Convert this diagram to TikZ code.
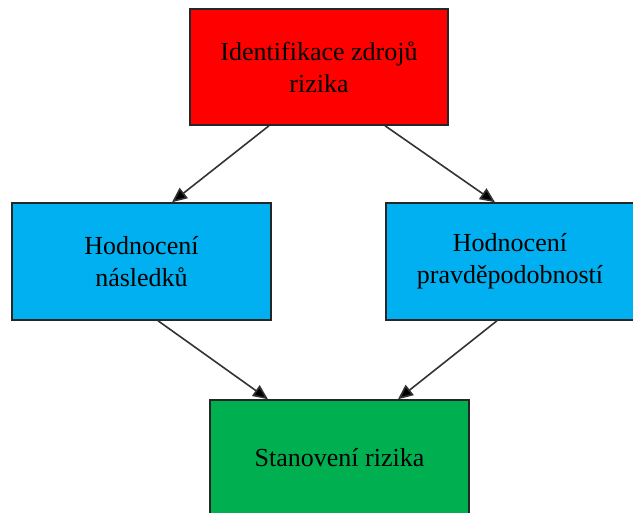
\documentclass[tikz,border=0pt]{standalone}
\usepackage{fontspec}
\setmainfont{Liberation Serif}
\usetikzlibrary{arrows.meta}
\definecolor{boxred}{HTML}{FF0000}
\definecolor{boxblue}{HTML}{00B0F0}
\definecolor{boxgreen}{HTML}{00B050}
\begin{document}
\begin{tikzpicture}[x=1pt,y=-1pt,
  box/.style={draw=black!85,line width=1.5pt,align=center,inner sep=0pt,
    font=\fontsize{26}{32}\selectfont},
  arr/.style={draw=black!80,line width=1.6pt,-{Triangle[length=15pt,width=13pt,fill=black]}}]
\useasboundingbox (0,0) rectangle (633,513);
\node[box,fill=boxred,minimum width=258pt,minimum height=116pt] (r) at (319,67) {Identifikace zdrojů\\rizika};
\node[box,fill=boxblue,minimum width=259pt,minimum height=117pt] (bl) at (141.5,261.5) {Hodnocení\\následků};
\node[box,fill=boxblue,minimum width=248pt,minimum height=117pt] (br) at (510,261.5) {Hodnocení\\pravděpodobností};
\node[box,fill=boxgreen,minimum width=259pt,minimum height=116pt] (g) at (339.5,458) {Stanovení rizika};
\draw[arr] ([xshift=-50pt]r.south) -- ([xshift=30.5pt]bl.north);
\draw[arr] ([xshift=66pt]r.south) -- ([xshift=-15pt]br.north);
\draw[arr] ([xshift=16.5pt]bl.south) -- ([xshift=-71.5pt]g.north);
\draw[arr] ([xshift=-13pt]br.south) -- ([xshift=58.5pt]g.north);
\end{tikzpicture}
\end{document}
